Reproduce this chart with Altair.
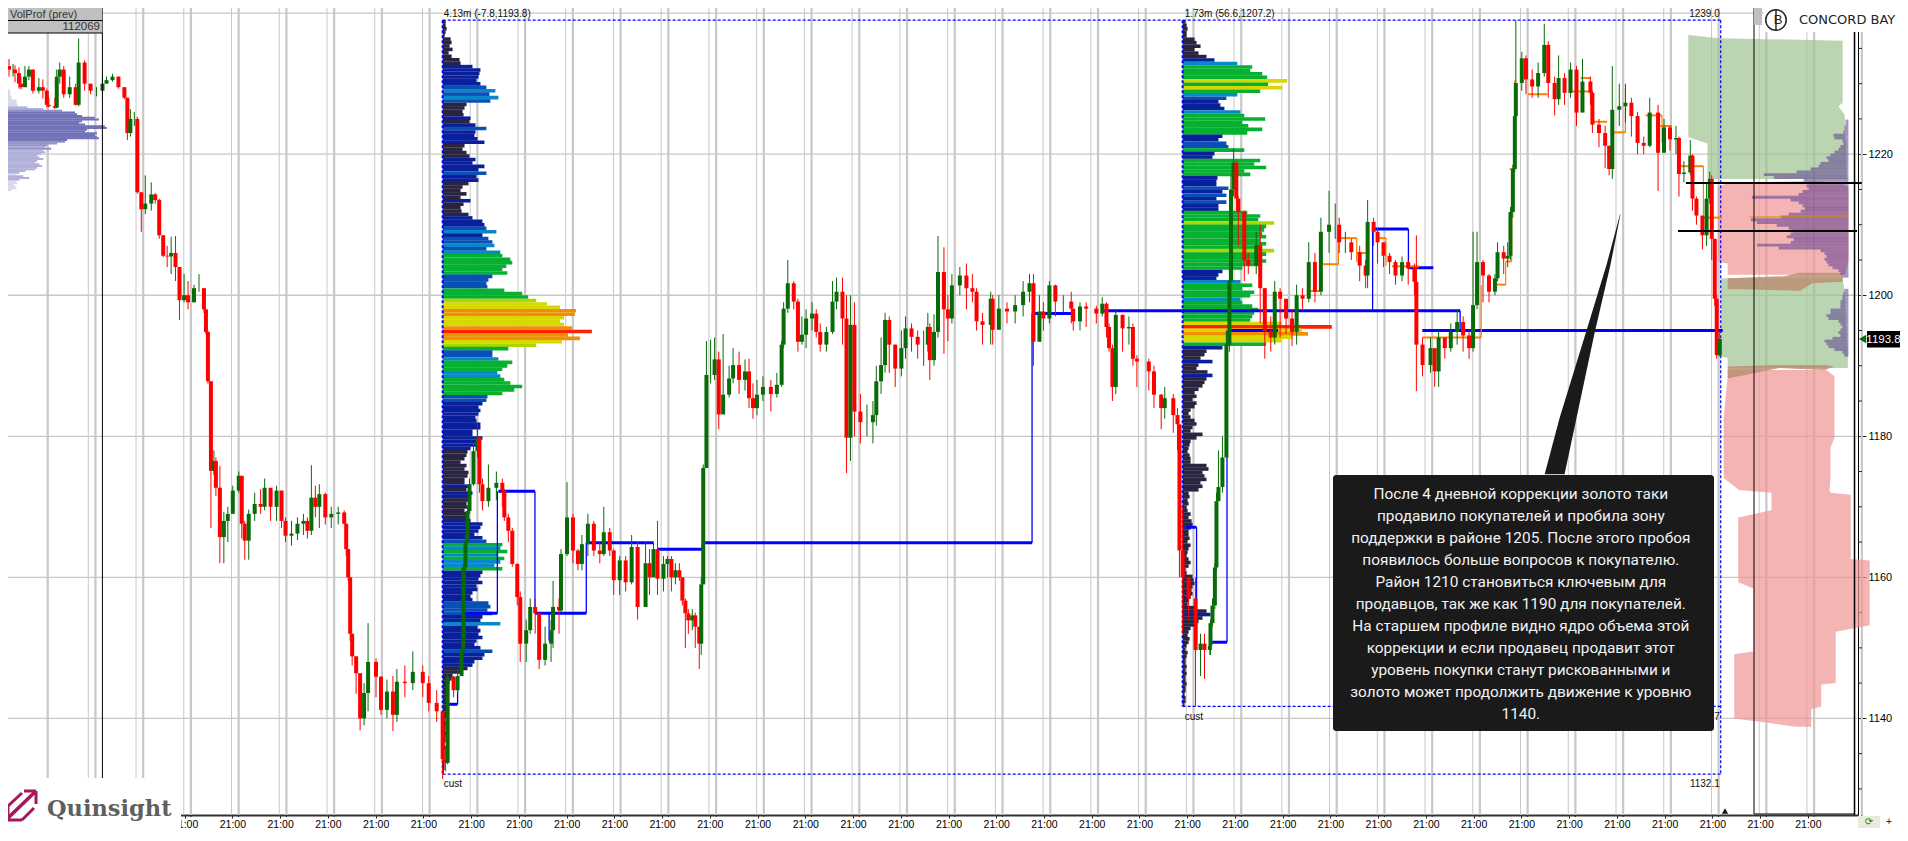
import altair as alt
import pandas as pd

# ---------- chart values ----------
candles_a = [(2,1232,1233.5,1231),(4,1232,1232.8,1231),(5,1231.5,1232.6,1230.2),(7,1230,1232.3,1229.3),(8,1229.5,1231,1229.2),(10,1231,1232.5,1229.5),(12,1232,1232.5,1230.5),(14,1229,1232,1228.6),(17,1229.5,1230.8,1228.6),(19,1229,1230.6,1227.9),(21,1227,1229.3,1226.6),(22,1226.8,1228,1226.6),(25,1226.6,1228,1226.4),(26,1231,1232,1226.5),(27.5,1232,1233,1230),(29.5,1228.5,1232.5,1228),(32.5,1229.5,1231,1228),(35.5,1227,1230,1226.9),(37,1233,1236.4,1226.8),(40,1230,1233.3,1229),(43,1229,1230,1228.5),(46,1229,1229.5,1228.2),(49,1230,1230.8,1228.5),(51,1230.5,1231,1230),(54,1231,1231.4,1230.3),(57,1229.5,1231,1229.3),(60,1228,1229.5,1227.8),(61.5,1223,1228,1222),(63,1225,1226.4,1222.5),(65,1225,1226,1224),(66.5,1214.6,1225.3,1214.4),(68.5,1212.2,1214.6,1209),(70.5,1213,1217,1211.5),(73.5,1214.3,1216,1212),(75.5,1213.5,1214.5,1213),(77.5,1208.5,1213.7,1208),(79.5,1205.6,1208.5,1205.4),(81.5,1205.5,1207,1204),(83.5,1206,1208.3,1203),(85.7,1204,1208.4,1202),(87.7,1199.3,1204,1196.5),(90,1200,1203,1199),(92,1199,1202,1198),(95,1201,1201.5,1199),(97.5,1201,1203,1200.5),(100,1198,1201,1197.5),(101,1194.8,1198,1194.5),(102,1187.8,1195,1187.5),(103.5,1175.1,1187.8,1167)]
candles_b = [(105,1176.5,1178,1174.5),(106,1172.7,1177,1171.5),(108,1165.7,1175.8,1162),(110,1168,1169.3,1162),(112,1169,1170,1165),(114.5,1172.3,1173,1170),(117.5,1174.4,1175,1172),(119,1167.6,1172,1165.5),(120.5,1165.2,1168,1162.5),(122.5,1169,1169.6,1162.5),(125.5,1170.4,1172,1168),(128.5,1170,1172.5,1169),(130.5,1172.7,1174,1169.5),(133.5,1170,1172,1168),(136.5,1172.3,1173,1168),(139,1168,1172.3,1167),(141,1165.9,1168.5,1165),(144,1166.2,1168,1164.5),(147,1167.6,1168.5,1165.3),(150,1168,1169,1166),(152,1166.6,1168.5,1165.5),(154,1171.3,1175.9,1166),(156,1170,1173,1168.5),(158,1171.8,1173.2,1167),(161,1168.5,1172,1167.5),(164,1169,1170,1167),(167.5,1169.2,1170,1167.5),(170.5,1167.6,1169.5,1167.5),(171.5,1164,1167.6,1163),(172.5,1160,1164,1159.5),(173.5,1152,1160,1151),(174.5,1148.8,1152,1147.5),(176.5,1146.4,1148.8,1143.5),(178.5,1140,1146.4,1138.3),(180.5,1143.6,1145,1139),(182.5,1148,1153.5,1141),(186.5,1145.9,1148.5,1143),(189,1141.2,1146,1140.5),(192,1143.8,1145.5,1140),(195,1140.5,1146,1138.2),(197,1145.2,1147,1139.5),(201,1145,1147.5,1143),(205,1146.6,1149.5,1144),(210,1145,1147.5,1143),(213,1142.2,1146,1141),(217,1141,1144,1139.5),(220,1134.2,1141,1131.4),(221.5,1133.7,1136,1132.5),(222.5,1145.9,1146.5,1133.5),(225.5,1144,1146,1143),(227.5,1146,1147,1143.5),(229.5,1149.7,1150.5,1146),(230.5,1161.4,1162,1149.5),(231.5,1165.2,1166,1161),(232.5,1169.4,1170,1165),(233.5,1173.2,1174,1169),(235.5,1177.9,1179,1173),(237.5,1179.8,1182,1177),(238.5,1173.2,1180,1172),(240,1170.8,1174,1169.5),(243,1172.7,1176,1170),(247,1173.4,1175,1171),(250,1172.3,1174,1170),(251,1168.5,1172.5,1168),(253,1166.6,1169,1165),(255,1161.9,1167,1161.5),(257.5,1157.2,1162,1156),(259,1150.6,1158,1148),(262,1152.5,1154,1148),(264,1155.8,1157,1152),(266.5,1154.9,1157,1152),(268.5,1148.3,1155,1147),(271.5,1150.6,1153,1147.5),(274.5,1152.5,1154,1148),(275.5,1155.8,1159.5,1150),(278.5,1155.3,1157,1152),(279.5,1163.3,1164,1155),(282.5,1168.5,1173.5,1163),(285.5,1163.8,1169,1162),(288,1161.9,1164,1161),(290,1164.7,1166,1161),(293,1167.6,1169,1163),(296,1163.8,1168,1163),(299,1163.3,1165,1162),(301,1166.4,1170,1163),(304,1163.8,1167,1163),(306,1159.6,1164,1157.5),(309,1162.4,1163,1157.5),(312,1159.3,1163,1158),(315,1164.3,1166,1159),(318,1155.8,1165,1154)]
candles_c = [(322,1162,1165,1159),(324,1160,1164,1157.5),(326,1164,1165,1161),(328,1159.8,1168,1157.5),(331,1161.9,1163,1158),(333,1162.6,1163,1160),(335,1160,1163,1158),(337,1161,1162,1159),(339,1160,1162,1159.5),(340.5,1156.7,1160,1156),(342,1154.9,1157,1150),(343.5,1153.9,1155.5,1152),(345.5,1154.6,1155.5,1152.5),(347,1153,1155,1150),(349,1150.6,1153,1147),(350,1159,1160,1149),(351,1175.5,1176,1159),(352.6,1188.7,1193.5,1182),(354.7,1188.7,1193.7,1187.5),(356.7,1190.9,1194,1188),(358.8,1183.1,1192,1181),(361,1185.9,1194.5,1183.5),(364,1188.2,1190,1185.5),(366,1190.1,1192.5,1187.5),(369,1188,1192,1186),(372,1189.2,1190.9,1186.5),(374,1185.4,1191,1184),(376,1184,1187.5,1182.5),(378,1185.9,1188,1183),(381,1187,1188.5,1185),(385,1186,1188,1183.5),(388,1187.3,1189,1185.5),(390.4,1193,1193.5,1187),(391.4,1198.1,1199,1192.5),(393.5,1201.7,1205,1197.5),(396.5,1199.1,1202,1198),(398.6,1193.4,1199.5,1192),(400.6,1194.4,1197,1193),(402.7,1196.7,1198,1192.5),(405.7,1197.4,1199,1195),(407.8,1194.8,1198,1194),(409.8,1193,1196,1192),(412.9,1194.8,1195.5,1192),(416,1199.1,1202,1194.5),(418,1200.5,1202.5,1198),(421,1196.7,1202.5,1193),(423,1179.8,1200,1174.8),(425,1195.8,1200,1176.5),(427,1183.5,1199,1180),(430,1182,1186,1179),(433.3,1182,1184.5,1180),(436.3,1183,1185,1179),(438,1187.8,1190,1181.5),(440.4,1190.1,1194,1186),(442.4,1196.5,1197.5,1189),(444.5,1193,1197,1189),(447.5,1189.6,1193,1187),(450.6,1192.5,1195,1188.5),(452.7,1195.3,1197,1191),(455.7,1194.1,1196,1192),(458.8,1193,1195,1191),(461.8,1193,1195,1190),(463.9,1195.5,1197.5,1192),(464.9,1190.8,1196,1188),(467,1194.8,1197.3,1190),(469,1203.3,1208.4,1194),(472,1198,1206.8,1191.7),(474,1196.7,1200,1193.5),(476,1201.4,1203,1196),(480,1202.8,1204,1200),(483.3,1201,1204.5,1198),(486.3,1200.5,1203,1199),(488.4,1196.3,1201,1195),(491.4,1195.8,1197.5,1193),(495.5,1199.5,1200.5,1193),(496.5,1195.1,1200,1193),(499.6,1198.1,1200,1195.5),(503.7,1197.7,1199,1196),(507.8,1198.6,1200,1196),(511.8,1200.5,1202,1197),(515,1201.7,1203,1199),(517,1193.4,1203,1190),(520,1197.7,1200,1195),(522,1196.7,1199,1195),(525,1201.4,1202,1196),(528,1199.1,1201.5,1197),(532,1199.1,1200,1197.5),(536,1198.1,1200.5,1196),(537,1196.3,1198,1195),(540.4,1198.4,1199,1195),(543.5,1198.1,1199,1195.5),(548.6,1197.4,1198.5,1196),(551.6,1198.8,1199.7,1197),(553.7,1195.5,1199,1194),(555,1192.5,1196,1192),(556.7,1187,1193,1185),(558.4,1197.2,1198,1186),(561.8,1195.3,1197.3,1192),(565,1195.5,1197,1193),(567,1191,1196,1190),(569,1190.6,1191.5,1187),(575,1189.2,1191,1186.5),(577.6,1185.9,1190,1184),(581.2,1184,1186,1181),(583,1185.4,1187,1182.5),(587.3,1183,1186,1180.5),(589.4,1181.7,1184,1178)]
candles_d = [(590.4,1163.8,1181.7,1160),(592,1160,1170,1152),(595,1157,1160,1154),(598.5,1149.7,1160,1141.7),(601,1150.6,1152,1146),(603,1149.7,1152,1145.6),(605.7,1150.3,1151,1149),(606,1153.5,1154,1149),(607,1156,1157,1153),(608.2,1161.4,1162,1155.5),(609,1170.8,1172,1161),(610,1172.8,1178,1172),(612,1177,1180,1172),(614,1193,1195,1177),(615.5,1202,1204,1192),(616.3,1215,1217,1202),(617.6,1218.8,1220.9,1214),(619,1213.7,1219,1212),(620,1211.8,1214,1207),(623,1205,1212,1202),(625,1204.2,1206,1203),(629,1207.1,1209,1203),(631,1201,1210,1196),(633.3,1194.9,1201,1191),(636.3,1194,1197,1192),(638.3,1200.5,1202,1193),(641,1199.5,1201,1194),(644,1196.7,1199,1194.5),(647,1194.8,1198,1192.8),(649.3,1200,1201.5,1193),(652.3,1199.5,1201,1198),(655.4,1204.7,1207.5,1199),(658.5,1200.5,1206,1199),(661.5,1209,1211,1200),(665.6,1210,1214.8,1206),(668.7,1210,1213,1208),(670.7,1207.5,1211,1206),(673.8,1207.5,1209,1206),(676.8,1206.1,1208,1205),(681,1204.2,1207,1202),(684,1202.8,1205,1201),(685,1210.4,1213.5,1201),(688,1209,1211,1207),(690,1207.5,1209.5,1204.5),(693,1205.6,1207,1204),(696,1204.7,1206,1203),(699,1202.8,1205,1201.5),(702.3,1204.7,1205.5,1202),(705.4,1203.8,1205,1201.5),(708.5,1201.9,1204.5,1200),(709.5,1193,1208.5,1186.4),(712.6,1190.1,1194,1188.5),(716.6,1192.5,1194,1189),(718.7,1189.2,1192,1187),(720.7,1194,1195,1187),(723.8,1192.5,1194,1191),(726.8,1194.8,1196,1192),(730,1196.2,1198,1193),(733,1194.3,1197,1192),(736,1192.5,1195,1191),(738,1198.6,1209,1192),(740,1204.7,1209,1198),(743,1202.8,1205,1199),(746,1200.5,1203,1199),(749,1202.4,1203,1200),(750.3,1206.1,1207.5,1202),(753.4,1205.2,1207,1203),(755.4,1205.6,1207.5,1204),(756.8,1211.8,1212.5,1205),(758,1217.9,1218.5,1211),(759,1225.4,1226,1217.5),(759.5,1230.1,1239,1225),(762.5,1233.6,1234.5,1229),(764.6,1230.6,1234,1228.5),(767.7,1229.6,1232,1228),(770.7,1231.5,1233,1228),(773.8,1235.5,1238.5,1231),(775.8,1230.1,1236,1228),(779,1227.8,1231,1225.5),(781,1230.8,1234,1227),(784,1228.7,1231.5,1227),(787,1232,1233,1228),(790,1225.9,1232.5,1224),(793,1230.3,1233.5,1226),(797,1228.7,1231,1227),(798,1224.2,1229,1223),(801.3,1223,1225,1221),(804.4,1221.2,1224,1218),(806.4,1217.9,1221,1217),(808,1226.3,1232.5,1216.5),(811.5,1226.8,1230,1224),(814.6,1227.3,1230,1224.5),(817.6,1225.4,1228,1222.5),(820.7,1221.6,1226,1220),(823.8,1221.2,1222.5,1220),(826.8,1225.9,1228,1221),(831,1220.2,1227,1214.8),(834,1223.8,1225,1221),(837,1222.1,1224,1220.5),(840,1222.3,1224,1220),(841.5,1217.2,1222.5,1214),(844,1217.4,1219,1216),(847.2,1219.8,1222,1217),(848.3,1213.7,1220,1212),(850.3,1211.3,1214,1210),(853.3,1208.5,1211,1206.5),(855.4,1213.7,1216,1207),(857,1216.5,1217.5,1213),(858,1208,1217,1205),(859.5,1199.5,1208,1198.5),(860.5,1191.5,1200,1191),(862,1193.8,1195,1191.3)]

# volume profiles: bar length per price row, top row first
profile1_volume = [3,3,4,3,2, 8,9,7,10, 6,9, 17,18, 30,
    38,37,36,34,38,44,53,47,56,48, 24,22,20,21,28,27,33,44,33,32,35,42,
    22,20,24,27,33, 30,42,36,44,34,36, 26,20,18,24,18,28,21,18,19,26, 30,40,
    42,44,54,40,46,50,52,44, 58,60,68,70,64,60,65, 50,46,44,45, 62,80,86,
    94,105,118,134,133,122,118,122,130,150,126,138,120,94, 66,
    50,50,56,70,65,60,55,58,62,68,80,72,60, 45,44,40,36,38,36,33,34,
    38,38,30,30,40,38, 34,28,25,24,22,18,24, 22,26,25,22,22,28,24, 30,28,26,
    24,25,22,24,26,28, 40,38,36,32,40, 44,60,58,65,56,62,58,52,60,
    40,38,36,40,34,35,30,28, 30,46,48,45,50,40,38,58, 35,38,36,40,34,32,38,50,42,40,
    32,30,25, 18,10,9, 7,6,5,6,5,4,5,4,4,5,4,3,4,3,3,4,3,3,2,3,2,2,2,1,2,2,1]
profile2_volume = [3,4,5,4,4, 12,14,18,12, 16,24, 32, 55,
    70,68,80,85,105,86,100,78, 55,44, 36,38,42, 58,62,83,60,66, 80,65,
    40,36,44,46,62, 32,30, 78,72,84,62,68, 35,34,34,46,40,44,34,44,36,36,
    65,78,76,92,84,82,80,84,78,84,80,92,84,80,84,80, 60,40,36,34,
    58,70, 60,72,68,58,60,70, 76,72,70,68, 100,150,120,126,110,100,84, 40,
    24,22,18,30,16,14,25,30,24,22,20,16, 12,14,10,14,12,8,6,8,12,14,
    10,8,20,14,8,7,6,5,7,8,8,24,26,20,22,24,18,20,16,6,7,5,6,4,5,8,6,9,10,8,6,6,7,5,8,
    6,5,4,6,8,6,3,4,10,11,12,10,9,10,8,6,5,14,24,28,20,16,12,8,6,5,7,6,4,3,5,4,3,3,4,3,4,3,3,4,3,3,2,3,3,2]
prev_volume = [2,3,3,3,4,4, 9,9,10,10, 20,36,55,68,70,
    75,88,92,75,72,78,98,100,80,78,90,88,90,92, 60,58,50,40,38,44,36,38,34,
    30,32,36,30,28,32,35,30,28, 18,12,8,16,22,12,8,10,6,8,9,4]
senior_volume = [3,3,4,4,5,15,14,6,5,8,10,14,18,22,20,28,30,38,52,85,75,45,
    40,42,40,46,50,97,58,50,46,44,48,60,68,98,92,72,60,55,58,62,55,58,92,70,28,
    24,22,24,22,20,16,10,8,6,0,0,0,0,4,5,6,6,8,8,8,18,18,22,20,10,8,6,8,10,8,16,24,22,20,14,6,4]

# zones: (price, left hour, right hour)
zone_green_top = [(1236.9,846.2,846.4),(1236.45,846.2,861.5),(1236.1,846.2,923.8),(1227.3,846.2,923.8),(1226.8,846.2,921.7),(1225.6,846.2,924.8),(1222.4,846.2,925),(1221.5,855.8,925.5),(1216.5,855.8,925.8)]
zone_red_top = [(1216.2,908.5,909.5),(1215.9,865.6,922.8),(1215.3,861.1,926.8),(1204.7,861.1,926.8),(1204.5,866,926.4),(1202.9,866,924.8)]
zone_green_low = [(1202.4,862.6,923.8),(1200.5,862.6,924.8),(1191.3,862.6,926.4),(1191.1,866,926.4),(1189.7,866,926.4)]
zone_red_low = [(1189.4,866,915.6),(1188.5,866,919.7),(1182.6,864,919.7),(1179.8,864,919.7),(1178.4,864,917.7),(1174.1,864,917.7),(1172.4,871.7,917.2),(1172,888,917.7),(1171.7,888,927.9),(1169.5,888,927.9),(1168.5,871.3,927.9),(1162.6,871.3,927.9),(1162.4,871.3,937.4),(1159.3,871.3,937.4),(1158.4,878.9,937.4),(1153.2,878.9,937.4),(1152.3,878.9,920.3),(1149.5,878.9,920.3),(1149.1,869.3,920.3),(1145,869.3,920.3),(1144.8,869.3,913),(1141.7,869.3,913),(1141.3,869.3,908),(1140,869.3,908),(1139.3,888,908),(1138.8,900.3,908)]
overlap_upper = [(866,1202.4,1200.9),(894.2,1202.7,1200.7),(902.3,1203.2,1200.6),(908.5,1203.2,1201.7),(923.8,1203.2,1201.9)]
overlap_lower = [(866,1189.9,1188.2),(892.1,1190.1,1189.7),(914.6,1190.1,1189.4),(919.7,1189.9,1189.9)]
pointer_shape = [(1211.5,811.9,812.1),(1204.2,805,807),(1194.8,794.8,799.2),(1182.6,781.5,790),(1174.6,774,784)]

poc_flat = [(222.5,227.5,1142),(230.5,247.5,1154.9),(248,266.4,1172.2),(266.4,292.2,1154.9),(292.2,326,1164.9),(328,350.5,1164),(350.5,516.3,1164.9),(516.3,536.3,1197.4),(552.5,731.5,1197.8),(687.5,705.5,1209.4),(705.5,718,1203.9),(605.5,614.3,1150.8),(593.5,599,1167.1),(615,640,1195),(712.5,863.5,1195)]
poc_step = [(227.5,1142,1146),(247.5,1154.9,1172.2),(266.4,1154.9,1172.2),(273.5,1154.9,1151),(292.2,1154.9,1164.9),(350.5,1164,1164.9),(516.3,1164.9,1197.4),(614.3,1150.8,1195),(599,1167.1,1150.6),(687.5,1197.8,1209.4),(705.5,1209.4,1203.9),(731.5,1197.8,1195)]
vah_flat = [(765.6,775.4,1228.5),(842.1,853.8,1218.3),(853.8,863,1211),(808.5,814.6,1223.1),(798.3,805.4,1224.6),(824.8,833,1225.5),(832,838,1224),(792.1,797.2,1230.8),(786,797.2,1228.9),(670.3,679.5,1208.1),(662.6,670.3,1204.4),(679.5,686,1206),(690.1,694.2,1208.1),(697.2,710.9,1204.1),(712.6,742.1,1194),(748.3,754.4,1201.5),(754.4,757.4,1204.8),(756.4,759,1217.9),(654.4,661.1,1200.6)]
vah_step = [(853.8,1218.3,1211),(814.6,1223.1,1229.4),(833,1225.5,1221.6),(670.3,1208.1,1204.4),(679.5,1208.1,1204.7),(694.2,1208.1,1204.2),(709.5,1204.1,1193),(742.1,1201.4,1194),(754.4,1204.8,1201.5),(757.4,1217.9,1204.8),(759,1230.5,1217.9),(661.1,1200.6,1202)]
levels = [(845,933.4,1215.9),(841,931,1209.1)]
box_edges = [(220,862.5,1239),(220,862.5,1132.1),(592,862.5,1141.7)]
box_sides = [(220,1239,1132.1),(592,1239,1141.7),(862.5,1239,1132.1)]

callout_lines = ["После 4 дневной коррекции золото таки",
    "продавило покупателей и пробила зону",
    "поддержки в районе 1205. После этого пробоя",
    "появилось больше вопросов к покупателю.",
    "Район 1210 становиться ключевым для",
    "продавцов, так же как 1190 для покупателей.",
    "На старшем профиле видно ядро объема этой",
    "коррекции и если продавец продавит этот",
    "уровень покупки станут рискованными и",
    "золото может продолжить движение к уровню",
    "1140."]
chart_notes = [(220.5,1239.95,"4.13m (-7.8,1193.8)","left"),(593,1239.95,"1.73m (56.6,1207.2)","left"),
    (862,1239.95,"1239.0","right"),(220.5,1130.7,"cust","left"),(593,1140.2,"cust","left"),
    (862,1140.2,"1141.7","right"),(862,1130.7,"1132.1","right")]
price_ticks = [1140,1160,1180,1200,1220]
minor_ticks = [1130,1135,1145,1150,1155,1165,1170,1175,1185,1190,1195,1205,1210,1215,1225,1230,1235]
grid_prices = [1140,1160,1180,1200,1220,1240]
day_ticks = [90.3+24*k for k in range(-3,35)]
grid_thick = [21.45+24*k for k in range(0,39)]
grid_thin = [41.85+24*k for k in range(0,38)]
last_price = 1193.8

# ---------- helpers ----------
FONT = "Liberation Sans"
X = alt.Scale(domain=[4,929], nice=False, zero=False)
Y = alt.Scale(domain=[1126.3,1240.73], nice=False, zero=False)
x_axis=alt.Axis(values=day_ticks,labelExpr="'21:00'",grid=False,title=None,tickSize=3,tickColor="#222222",
    domainColor="#333333",domainWidth=2.2,labelFont=FONT,labelFontSize=10.5,labelColor="#000000",labelPadding=1,labelOverlap=False,labelFlush=False,labelBound=False)
y_axis=alt.Axis(values=price_ticks,orient="right",grid=False,title=None,tickSize=8,tickColor="#222222",
    domainColor="#000000",domainWidth=1,labelFont=FONT,labelFontSize=11,labelColor="#000000",labelPadding=2,format="d",labelOverlap=False)
xq = lambda f: alt.X(f, type="quantitative", scale=X, axis=x_axis)
yq = lambda f: alt.Y(f, type="quantitative", scale=Y, axis=y_axis)
x2q = lambda f: alt.X2(f)
y2q = lambda f: alt.Y2(f)
one = alt.Data(values=[{"a":1}])

def sx(v): return alt.value(v-8)
def sy(v): return alt.value(v-8)
def box(x1,y1,x2,y2,color,**kw):
    return alt.Chart(one).mark_rect(color=color,**kw).encode(x=sx(x1),x2=sx(x2),y=sy(y1),y2=sy(y2))
def seg(x1,y1,x2,y2,color,w=1):
    return alt.Chart(one).mark_rule(color=color,strokeWidth=w).encode(x=sx(x1),x2=sx(x2),y=sy(y1),y2=sy(y2))
def label(x,y,t,size=11,color="#000000",align="left",font=FONT,**kw):
    return alt.Chart(one).mark_text(text=t,fontSize=size,color=color,align=align,baseline="middle",font=font,**kw).encode(x=sx(x),y=sy(y))

def hrules(rows,color,w,**kw):
    df=pd.DataFrame(rows,columns=["h1","h2","p"])
    return alt.Chart(df).mark_rule(color=color,strokeWidth=w,**kw).encode(x=xq("h1"),x2=x2q("h2"),y=yq("p"))
def vrules(rows,color,w,**kw):
    df=pd.DataFrame(rows,columns=["h","p1","p2"])
    return alt.Chart(df).mark_rule(color=color,strokeWidth=w,**kw).encode(x=xq("h"),y=yq("p1"),y2=y2q("p2"))
def zone(rows,color,op=0.7):
    df=pd.DataFrame(rows,columns=["p","l","r"])
    return alt.Chart(df).mark_area(color=color,opacity=op,orient="horizontal",interpolate="linear").encode(
        y=yq("p"),x=xq("l"),x2=x2q("r"))
def overlap(rows):
    df=pd.DataFrame(rows,columns=["h","top","bot"])
    return alt.Chart(df).mark_area(color="#b98f72",opacity=0.85,interpolate="linear").encode(
        x=xq("h"),y=yq("top"),y2=y2q("bot"))

def profile(vol,top,bottom,start,direction,dom,colors,w,op=1.0):
    n=len(vol); step=(top-bottom)/n
    df=pd.DataFrame({"vol":vol})
    df["p"]=[top-step*(i+.5) for i in range(n)]
    df["h1"]=start
    df["h2"]=df["vol"]*0.5*direction+start
    return alt.Chart(df).mark_rule(strokeWidth=w,opacity=op).encode(
        x=xq("h1"),x2=x2q("h2"),y=yq("p"),
        color=alt.Color("vol:Q",scale=alt.Scale(type="threshold",domain=dom,range=colors),legend=None))

heat_dom=[28,44,52,60,88,100,125,145]
heat_col=["#2a2440","#0a1f9c","#0a50b4","#0888c8","#06b030","#a8d800","#d8d800","#f09000","#ff2000"]

# ---------- candles ----------
rows=candles_a+candles_b+candles_c+candles_d
cd=pd.DataFrame(rows,columns=["h","c","hi","lo"])
cd["o"]=cd["c"].shift(1).fillna(1232.5)
cd["dir"]=["up" if c>=o else "down" for c,o in zip(cd["c"],cd["o"])]
dir_color=alt.Color("dir:N",scale=alt.Scale(domain=["up","down"],range=["#086b08","#ff0000"]),legend=None)
wicks=alt.Chart(cd).mark_rule(strokeWidth=1).encode(x=xq("h"),y=yq("lo"),y2=y2q("hi"),color=dir_color)
bodies=alt.Chart(cd).mark_bar(size=4).encode(x=xq("h"),y=yq("o"),y2=y2q("c"),color=dir_color)

def vgrid(vals,w):
    return alt.Chart(pd.DataFrame({"h":vals})).mark_rule(color="#c8c8c8",strokeWidth=w).encode(x=xq("h"))
hgrid=alt.Chart(pd.DataFrame({"p":grid_prices})).mark_rule(color="#c8c8c8",strokeWidth=1.3).encode(y=yq("p"))
minor=alt.Chart(pd.DataFrame({"p":minor_ticks})).mark_rule(color="#222222").encode(y=yq("p"),x=alt.value(1850),x2=alt.value(1854))
sub_ticks=alt.Chart(pd.DataFrame({"h":grid_thick})).mark_rule(color="#222222").encode(x=xq("h"),y=alt.value(807),y2=alt.value(809))

dash=[3,2]
notes_df=pd.DataFrame(chart_notes,columns=["h","p","t","al"])
def notes(al):
    return alt.Chart(notes_df[notes_df.al==al]).mark_text(fontSize=10,font=FONT,color="#111111",align=al,baseline="middle").encode(
        x=xq("h"),y=yq("p"),text="t:N")

callout_df=pd.DataFrame({"t":callout_lines,"p":[1171.8-3.12*i for i in range(len(callout_lines))],"h":[762]*len(callout_lines)})
callout_text=alt.Chart(callout_df).mark_text(fontSize=15.4,font="Roboto",color="#f2f2f2",align="center",baseline="middle").encode(
    x=xq("h"),y=yq("p"),text="t:N")

marker_df=pd.DataFrame({"p":[last_price]})

layers=[
    vgrid(grid_thick,2.2), vgrid(grid_thin,1), hgrid, minor, sub_ticks,
    profile(prev_volume,1229.2,1214.8,1.2,1,[12,40,60],["#d8d8ec","#b0b0d8","#9090c8","#7272b8"],2),
    profile(profile1_volume,1239,1132.2,220,1,heat_dom,heat_col,3.6),
    profile(profile2_volume,1239,1141.7,592,1,heat_dom,heat_col,3.6),
    zone(zone_green_top,"#9ec292"),zone(zone_red_top,"#ef9494"),zone(zone_green_low,"#9ec292"),zone(zone_red_low,"#ef9494"),
    overlap(overlap_upper),overlap(overlap_lower),
    profile(senior_volume,1224.9,1191.3,926.7,-1,[1000],["#5a3c8e","#5a3c8e"],2.9,0.55),
    hrules([(877,926.7,1211.1)],"#e08a00",1),
    hrules(box_edges,"#0000ff",1.2,strokeDash=dash),
    vrules(box_sides[2:],"#0000ff",1.2,strokeDash=dash),
    vrules(box_sides[:2],"#0000ff",2,strokeDash=dash),
    hrules(poc_flat,"#0000ff",3), vrules(poc_step,"#0000ff",1.3),
    hrules(vah_flat,"#ff8000",2), vrules(vah_step,"#ff8000",1.2),
    wicks,bodies,
    hrules(levels,"#000000",2),
    notes("left"),notes("right"),
    # callout
    alt.Chart(pd.DataFrame(pointer_shape,columns=["p","l","r"])).mark_area(color="#1a1a1a",orient="horizontal").encode(y=yq("p"),x=xq("l"),x2=x2q("r")),
    box(1333,475,1714,731,"#1a1a1a",cornerRadius=3),
    callout_text,
    # side panels and headers
    seg(1754,0,1754,814,"#000000"),seg(1754,814,1855,814,"#000000"),seg(1854.5,0,1854.5,815,"#000000",1.5),
    seg(102.4,0,102.4,778,"#000000"),
    box(2,8,102.4,33,"#c0c0c0"),seg(2,20.5,102.4,20.5,"#000000"),seg(2,33,102.4,33,"#000000"),
    label(10,14.5,"VolProf (prev)",11,"#333333"),label(100,27,"112069",11.5,"#333333","right"),
    box(1754,0,1762,25,"#c0c0c0"),
    # Quinsight logo
    box(0,778,181,841,"#ffffff"),
    seg(8,818,36,791,"#a3195b",3.5),seg(24,791,36,791,"#a3195b",3),seg(36,791,36,804,"#a3195b",3),
    seg(8,806,8,820,"#a3195b",3),seg(8,820,22,820,"#a3195b",3),seg(8,806,22,793,"#a3195b",3),seg(22,820,34,808,"#a3195b",3),
    label(47,809,"Quinsight",22.5,"#5f5f5f",font="DejaVu Serif",fontWeight="bold"),
    # Concord Bay logo
    box(1764,0,1908,32,"#ffffff"),
    alt.Chart(one).mark_point(shape="circle",size=420,filled=False,color="#222222",strokeWidth=1.5,opacity=1).encode(x=sx(1776),y=sy(20)),
    seg(1776,9,1776,31,"#222222",1.4),label(1778,20,"B",13,"#222222",align="center"),
    label(1799,20,"CONCORD BAY",13,"#222222",font="DejaVu Sans"),
    # right bottom controls
    box(1858,816,1880,841,"#ecead8"),box(1880,816,1908,841,"#ffffff"),
    label(1869,821.5,"⟳",10,"#0a8a1a",align="center",font="DejaVu Sans"),label(1889,821.5,"+",10,"#222222",align="center"),
    alt.Chart(one).mark_point(shape="triangle-up",filled=True,size=40,color="#111111",opacity=1).encode(x=sx(1725),y=sy(811)),
    # last price
    alt.Chart(marker_df).mark_point(shape="triangle-left",filled=True,size=70,color="#0a6b0a",opacity=1).encode(x=sx(1862.6),y=yq("p")),
    box(1867,331,1900,347.5,"#000000"),
    label(1883.5,339.5,"1193.8",11.5,"#ffffff",align="center"),
]

chart=alt.layer(*layers).properties(width=1850,height=807,autosize="none",
    padding={"left":0,"top":0,"right":42,"bottom":13},background="#ffffff"
).configure_view(stroke=None,clip=False)

chart.save("out.html", embed_options={"renderer": "svg", "actions": False})
